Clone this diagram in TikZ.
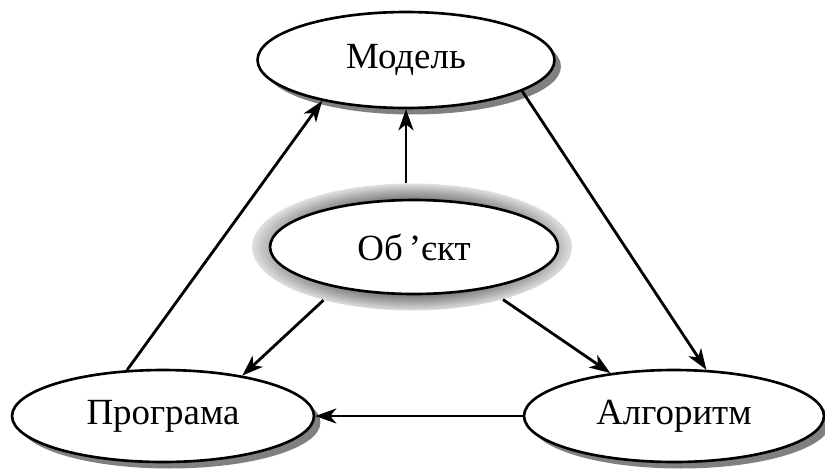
\documentclass[tikz,border=0pt]{standalone}
\usepackage{fontspec}
\setmainfont{Liberation Serif}
\newfontfamily\timesfam{Liberation Serif}
\usetikzlibrary{shapes.geometric,shadows,arrows.meta}
\pgfdeclareradialshading{ringshade}{\pgfpoint{0bp}{0bp}}{color(0bp)=(gray!100); color(19bp)=(gray!100); color(22bp)=(gray!65); color(25bp)=(gray!25); color(50bp)=(gray!25)}
\tikzset{
  blob/.style={ellipse, draw=black, line width=1.5pt, fill=white, inner sep=0pt,
    font=\timesfam\fontsize{21}{25}\selectfont},
  shadowed/.style={drop shadow={shadow xshift=0.13cm, shadow yshift=-0.13cm, fill=gray, opacity=1}},
  ringbox/.style={ellipse, draw=none, shading=ringshade, inner sep=0pt},
  arr/.style={line width=1.6pt, -{Stealth[length=0.42cm, width=0.3cm, inset=0.12cm]}}
}
\begin{document}
\begin{tikzpicture}[x=0.02cm, y=-0.02cm]
\useasboundingbox (0,0) rectangle (825,468);
% nodes
\node[blob, shadowed, minimum width=5.94cm, minimum height=1.92cm] (model) at (406,60) {Модель};
\node[ringbox, minimum width=6.4cm, minimum height=2.54cm] (objring) at (412,247) {};
\node[blob, minimum width=5.76cm, minimum height=1.88cm] (obj) at (414,247) {Об\,’єкт};
\node[blob, shadowed, minimum width=6.04cm, minimum height=1.84cm] (prog) at (163,416) {Програма};
\node[blob, shadowed, minimum width=6.0cm, minimum height=1.84cm] (alg) at (674,416) {Алгоритм};
% connectors
\draw[arr] (prog.128) -- (model.206);
\draw[arr] (model.south |- objring.north) -- (model.south);
\draw[arr] (model.-15) -- (alg.55);
\draw[arr] (objring.211) -- (prog.27);
\draw[arr] (objring.-30) -- (alg.146);
\draw[arr] (alg.west) -- (prog.east);
\end{tikzpicture}
\end{document}
